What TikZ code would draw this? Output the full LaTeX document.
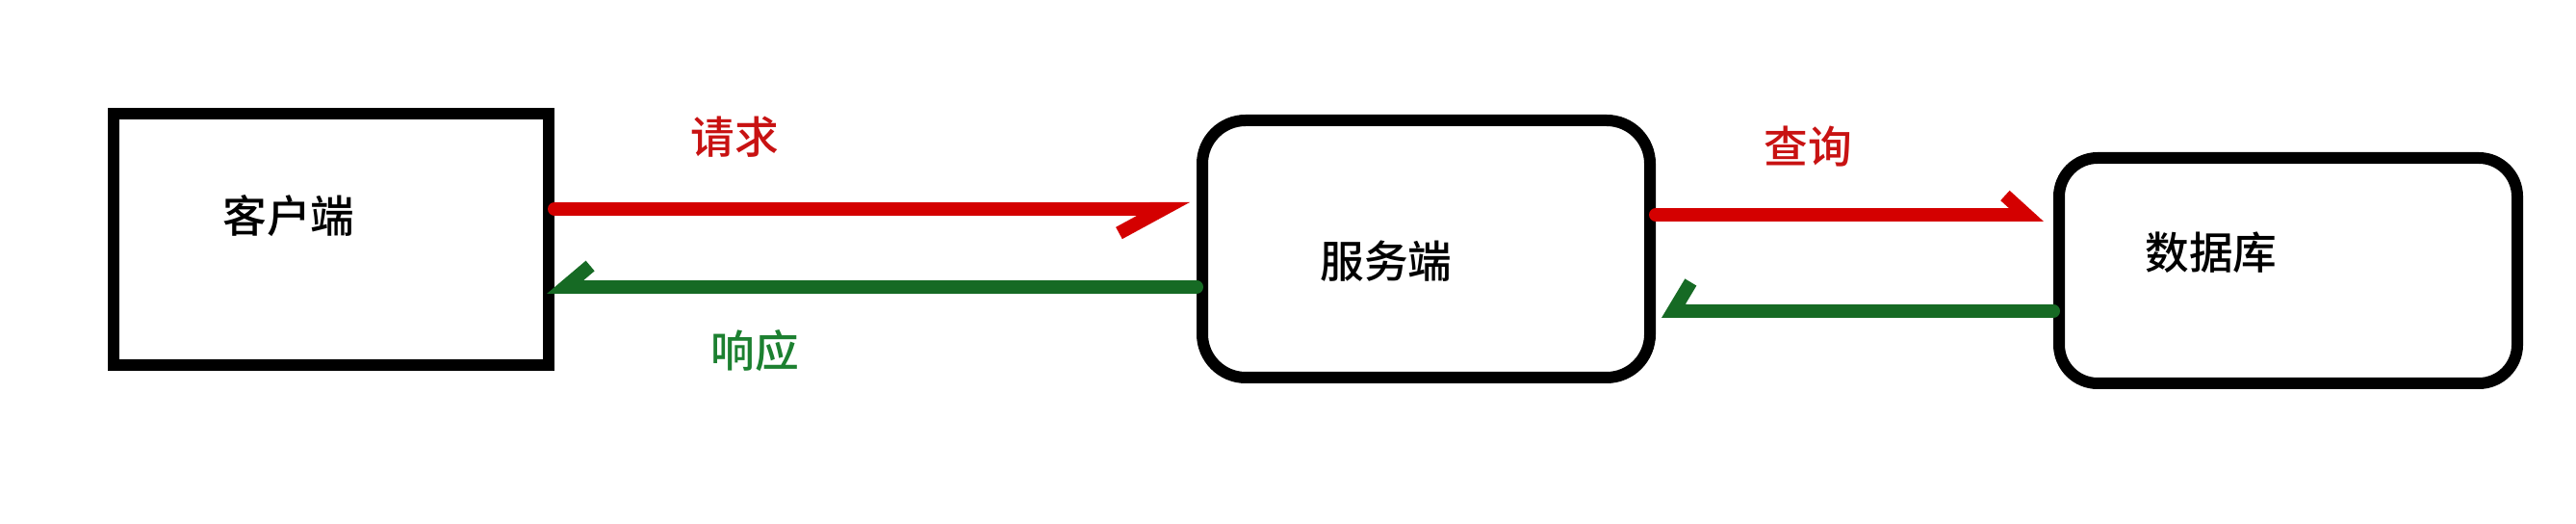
\documentclass[tikz,border=0pt]{standalone}
\usepackage{fontspec}
\usepackage{xcolor}
\usetikzlibrary{positioning,arrows.meta,calc}
\newfontfamily\cjk{Noto Sans CJK SC}[UprightFont=* Medium]
\definecolor{reqred}{RGB}{212,0,0}
\definecolor{respgreen}{RGB}{22,106,36}
\definecolor{lblred}{RGB}{200,18,18}
\definecolor{lblgreen}{RGB}{28,128,48}
\tikzset{
    box/.style={draw, line width=0.12cm, inner sep=0pt},
    reqline/.style={draw=reqred, line width=0.14cm, line cap=round},
    respline/.style={draw=respgreen, line width=0.14cm, line cap=round},
    txt/.style={font=\cjk\fontsize{13}{15}\selectfont}
}

\begin{document}
\begin{tikzpicture}
        \path[fill=white] (0,0) rectangle (26.76,-5.44);
        \node[box, minimum width=4.52cm, minimum height=2.61cm] (client) at (3.44,-2.485) {};
        \node[box, rounded corners=0.45cm, minimum width=4.65cm, minimum height=2.67cm] (server) at (14.815,-2.585) {};
        \node[box, rounded corners=0.4cm, minimum width=4.76cm, minimum height=2.34cm] (db) at (23.77,-2.81) {};
        \foreach \x/\y/\name in {3.00/-2.24/客户端,14.40/-2.71/服务端,22.97/-2.62/数据库}{\node[txt, black] at (\x,\y) {\name};}
        \coordinate (req) at (0,-2.17);
        \coordinate (resp) at (0,-2.98);
        \coordinate (query) at (0,-2.23);
        \coordinate (result) at (0,-3.23);
       \draw[reqline, -{Straight Barb[harpoon,swap,length=4.6mm,width=5mm]}, shorten >=0.07cm] (client.east |- req) -- (server.west |- req);
       \draw[respline, -{Straight Barb[harpoon,swap,length=2.6mm,width=4.4mm]}, shorten >=-0.08cm] (server.west |- resp) -- (client.east |- resp);
       \draw[reqline, -{Straight Barb[harpoon,length=2.2mm,width=4mm]}, shorten >=0.1cm] (server.east |- query) -- (db.west |- query);
       \draw[respline, -{Straight Barb[harpoon,swap,length=1.8mm,width=6mm]}, shorten >=0.06cm] (db.west |- result) -- (server.east |- result);
       \node[txt, lblred] at (7.63,-1.42) {请求};
       \node[txt, lblgreen] at (7.84,-3.64) {响应};
       \node[txt, lblred] at (18.78,-1.52) {查询};
    \end{tikzpicture}
\end{document}
